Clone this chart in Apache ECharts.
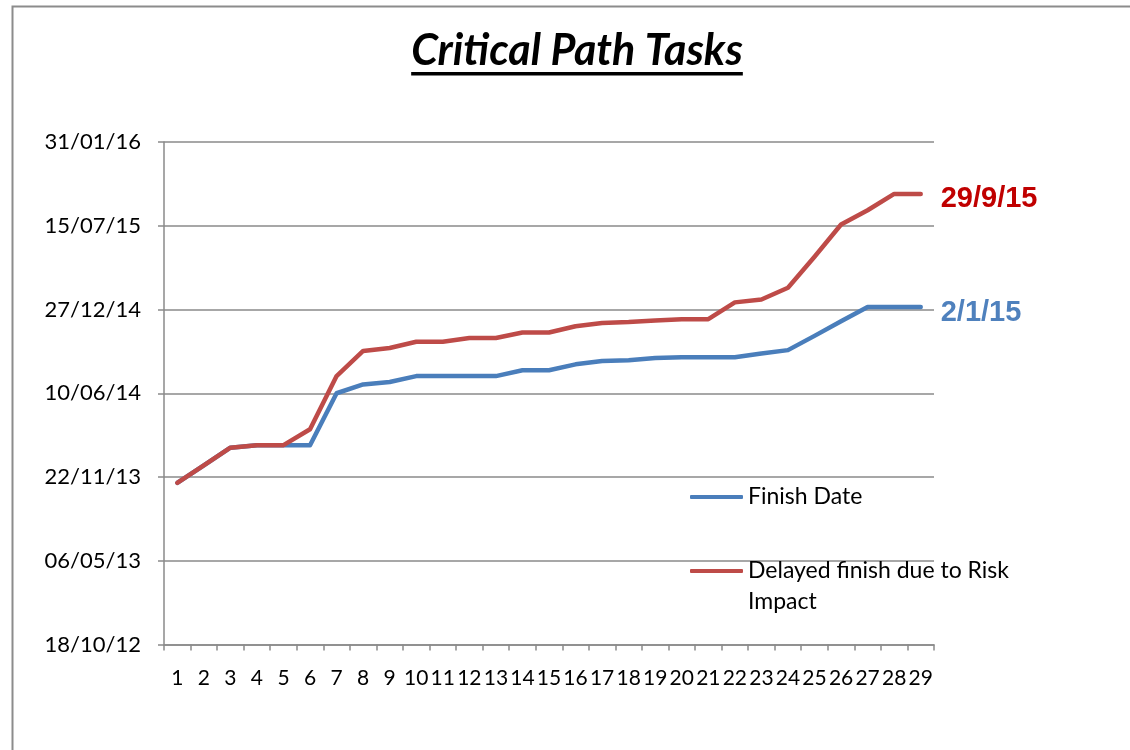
<!DOCTYPE html>
<html>
<head>
<meta charset="utf-8">
<script src="https://cdn.jsdelivr.net/npm/echarts@6/dist/echarts.min.js"></script>
<style>
html,body{margin:0;padding:0;background:#fff;}
#chart{width:1130px;height:750px;}
</style>
</head>
<body>
<div id="chart"></div>
<script>
// Task numbers (categories)
const taskNumbers = ['1','2','3','4','5','6','7','8','9','10','11','12','13','14','15','16','17','18','19','20','21','22','23','24','25','26','27','28','29'];
// Dates as spreadsheet serial day numbers (1899-12-30 based)
const finishDate = [41586,41628,41670,41676,41676,41676,41800,41821,41827,41841,41841,41841,41841,41855,41855,41869,41877,41879,41884,41886,41886,41886,41895,41903,41937,41972,42006,42006,42006];
const delayedFinish = [41586,41628,41670,41676,41676,41714,41841,41901,41908,41923,41923,41932,41932,41945,41945,41960,41968,41970,41974,41977,41977,42017,42024,42052,42126,42203,42237,42276,42276];
const seriesNames = ['Finish Date', 'Delayed finish due to Risk Impact'];
const titleText = 'Critical Path Tasks';
// y axis range (serials): 18/10/12 .. 31/01/16, step 200 days
const yMin = 41200, yMax = 42400, yStep = 200;

function serialToDate(s){ return new Date(Date.UTC(1899,11,30) + s*86400000); }
function pad(n){ return (n<10?'0':'')+n; }
function fmtAxis(s){ const d=serialToDate(s); return pad(d.getUTCDate())+'/'+pad(d.getUTCMonth()+1)+'/'+pad(d.getUTCFullYear()%100); }
function fmtShort(s){ const d=serialToDate(s); return d.getUTCDate()+'/'+(d.getUTCMonth()+1)+'/'+pad(d.getUTCFullYear()%100); }

const titleFont = 'italic bold 43px Lato';
const cv = document.createElement('canvas').getContext('2d');
cv.font = titleFont;
const titleW = cv.measureText(titleText).width;
const titleCx = 577;

const chart = echarts.init(document.getElementById('chart'), null, {renderer:'canvas'});
const gridColor = '#8a8a8a';
chart.setOption({
  animation:false,
  backgroundColor:'#fff',
  graphic:[
    {type:'rect', shape:{x:12.5,y:6.5,width:1300,height:900}, style:{fill:null, stroke:'#8c8c8c', lineWidth:2}, silent:true, z:-10},
    {type:'text', x:titleCx, y:51.5, style:{text:titleText, font:titleFont, fill:'#000', align:'center', verticalAlign:'middle'}},
    {type:'rect', shape:{x:titleCx-titleW/2, y:72, width:titleW, height:3.5}, style:{fill:'#000'}}
  ],
  grid:{left:164, right:196, top:142, bottom:105.5, containLabel:false},
  legend:{
    orient:'vertical', left:690, top:481.5, padding:0, itemGap:12,
    itemWidth:53, itemHeight:4, icon:'roundRect',
    textStyle:{fontFamily:'Lato', fontSize:23, lineHeight:31, color:'#000'},
    data:[seriesNames[0], seriesNames[1]],
    formatter:function(n){ return n===seriesNames[1] ? '\nDelayed finish due to Risk\nImpact' : n; }
  },
  xAxis:{
    type:'category', data:taskNumbers, boundaryGap:true,
    axisLine:{lineStyle:{color:gridColor, width:1.5}},
    axisTick:{show:true, length:6, lineStyle:{color:gridColor, width:1.5}},
    axisLabel:{interval:0, margin:23, fontFamily:'Lato', fontSize:21, color:'#000'}
  },
  yAxis:{
    type:'value', min:yMin, max:yMax, interval:yStep,
    axisLine:{show:true, lineStyle:{color:gridColor, width:1.5}},
    axisTick:{show:true, length:6, lineStyle:{color:gridColor, width:1.5}},
    splitLine:{lineStyle:{color:gridColor, width:1.5}},
    axisLabel:{margin:23, fontFamily:'Lato', fontSize:22, color:'#000', formatter:fmtAxis}
  },
  series:[
    {name:seriesNames[0], type:'line', data:finishDate, symbol:'none', smooth:false,
     lineStyle:{color:'#4A7EBB', width:4.5, cap:'round', join:'round'}, itemStyle:{color:'#4A7EBB'},
     endLabel:{show:true, distance:20, offset:[0,6], formatter:function(p){return fmtShort(p.value);},
       fontFamily:'Liberation Sans', fontWeight:'bold', fontSize:29, color:'#4F81BD'}},
    {name:seriesNames[1], type:'line', data:delayedFinish, symbol:'none', smooth:false,
     lineStyle:{color:'#BE4B48', width:4.5, cap:'round', join:'round'}, itemStyle:{color:'#BE4B48'},
     endLabel:{show:true, distance:20, offset:[0,5], formatter:function(p){return fmtShort(p.value);},
       fontFamily:'Liberation Sans', fontWeight:'bold', fontSize:29, color:'#C00000'}}
  ]
});
</script>
</body>
</html>
